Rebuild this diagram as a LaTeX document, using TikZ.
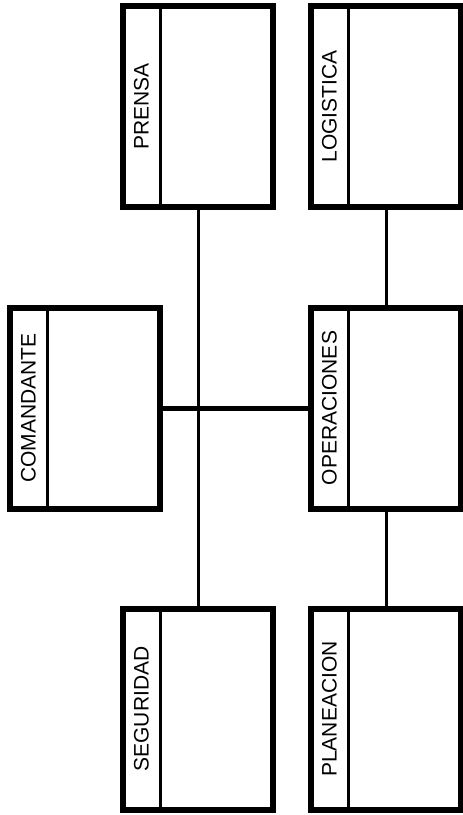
\documentclass[tikz,border=0pt]{standalone}
\usepackage{fontspec}
\setmainfont{Liberation Sans}
\usetikzlibrary{calc}

\begin{document}
\begin{tikzpicture}[x=1pt,y=-1pt,
    unidad/.style={draw,line width=6pt,minimum width=150pt,minimum height=201pt,inner sep=0pt,outer sep=0pt},
    rotulo/.style={rotate=90,font=\fontsize{21}{25}\selectfont,inner sep=0pt},
    division/.style={line width=3pt},
    enlace/.style={line width=3pt},
    principal/.style={line width=5pt}]
  \useasboundingbox (0,0) rectangle (463,815);
  % unidades con franja de titulo
  \foreach \n/\x/\y/\txt in {prensa/198/106.5/PRENSA,logistica/386/106.5/LOGISTICA,
      comandante/85/408/COMANDANTE,operaciones/386/408/OPERACIONES,
      seguridad/198/709/SEGURIDAD,planeacion/386/709/PLANEACION} {
    \node[unidad] (\n) at (\x,\y) {};
    \draw[division] ($(\n.north west)+(37,0)$) -- ($(\n.south west)+(37,0)$);
    \node[rotulo] (\n-t) at ($(\n.west)+(18.5,0)$) {\txt};
  }
  % enlaces
  \draw[enlace] (prensa) -- (seguridad);
  \draw[enlace] (logistica) -- (operaciones);
  \draw[enlace] (operaciones) -- (planeacion);
  \draw[principal] (comandante) -- (operaciones);
\end{tikzpicture}
\end{document}
